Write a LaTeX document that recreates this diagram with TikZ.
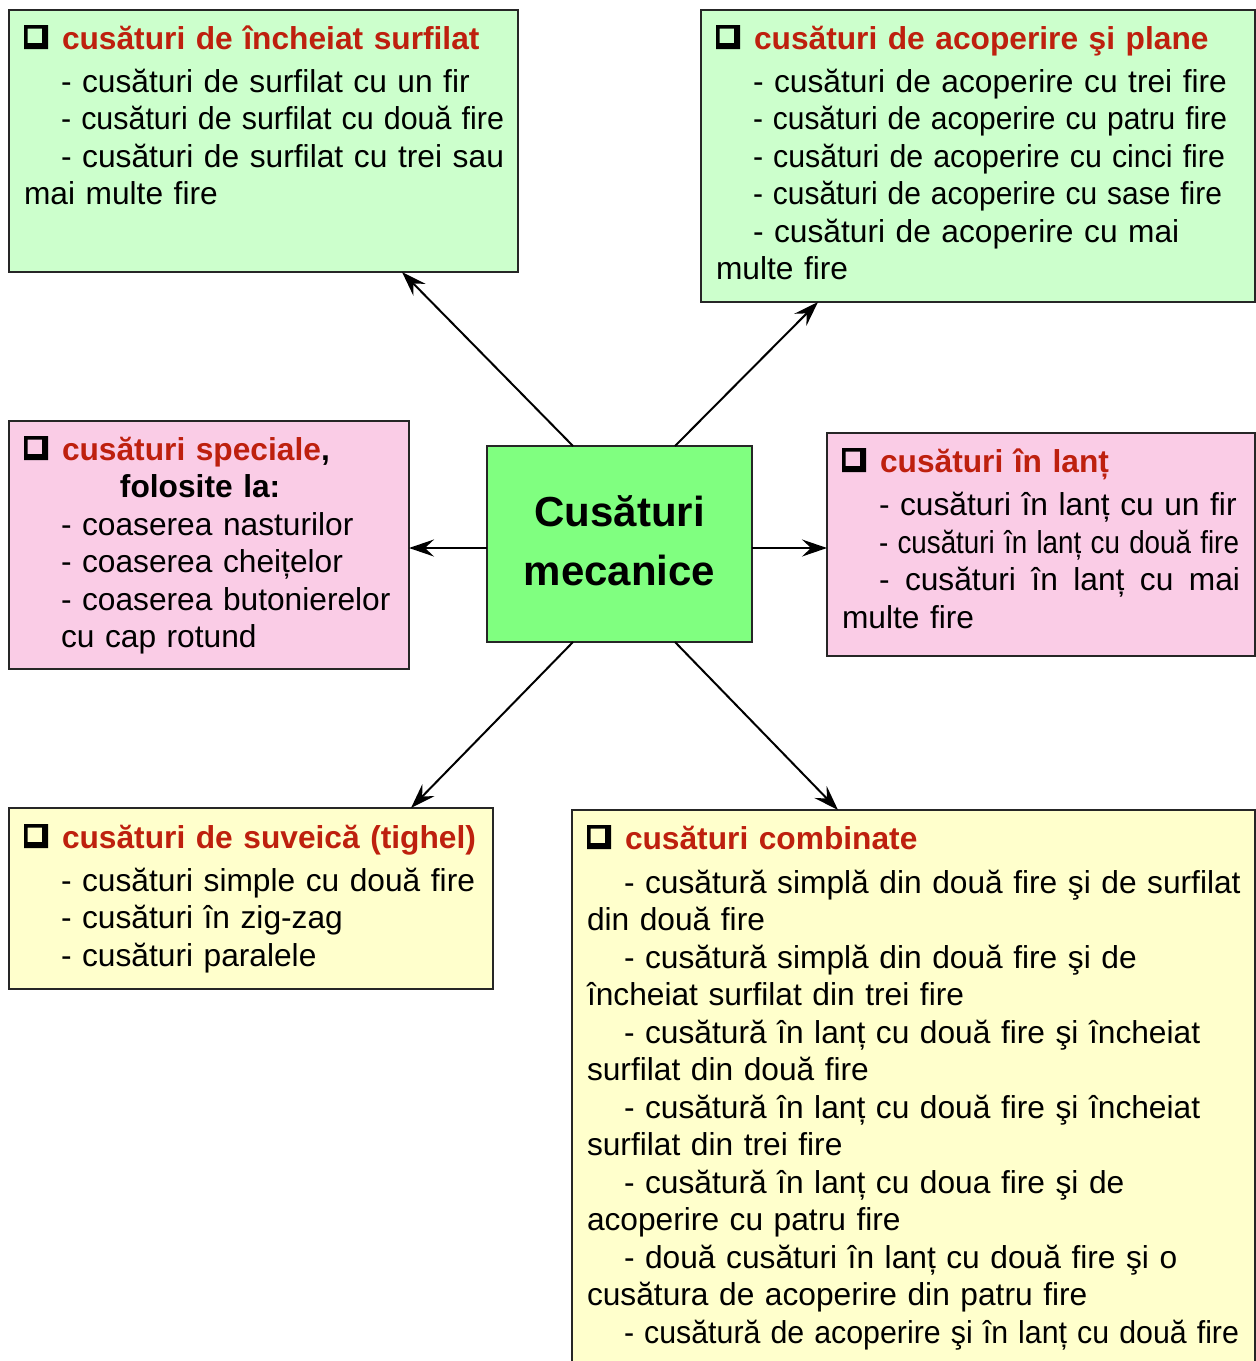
\documentclass[tikz,border=0pt]{standalone}
\usepackage{fontspec}
\usepackage{graphicx}
\setmainfont{Liberation Sans}
\usetikzlibrary{arrows.meta}
\definecolor{tgreen}{RGB}{204,255,204}
\definecolor{cgreen}{RGB}{128,255,128}
\definecolor{tpink}{RGB}{250,204,230}
\definecolor{tyellow}{RGB}{255,255,204}
\definecolor{tred}{RGB}{190,32,14}
\newcommand\ind{\hspace*{37pt}}
\newcommand\fitw[2]{\resizebox{#1}{\height}{#2}}
\newcommand\js{\hspace{0.28em plus 1fill}}
\newcommand\chk{\makebox[38pt][l]{\tikz[baseline=0pt,x=1pt,y=1pt]{\fill[black,even odd rule] (2,0) rectangle (26,24) (5.5,6) rectangle (20,20.5);}}}
\newcommand\ttl[1]{\chk\textcolor{tred}{\bfseries #1}}
\begin{document}
\begin{tikzpicture}[x=1pt,y=-1pt,
  box/.style={draw=black!85, line width=1.2pt, anchor=north west, inner sep=0pt, outer sep=0pt},
  txt/.style={anchor=base west, inner sep=0pt, outer sep=0pt, align=left, font=\fontsize{31.7}{37.5}\selectfont},
  arr/.style={line width=2pt, -{Stealth[length=25pt,width=17pt,inset=9pt]}}]
\useasboundingbox (0,0) rectangle (1256,1361);
% boxes
\node[box, fill=tgreen, minimum width=509pt, minimum height=262pt] (tl) at (9,10) {};
\node[box, fill=tgreen, minimum width=554pt, minimum height=292pt] (tr) at (701,10) {};
\node[box, fill=tpink, minimum width=400pt, minimum height=248pt] (lp) at (9,421) {};
\node[box, fill=tpink, minimum width=428pt, minimum height=223pt] (rp) at (827,433) {};
\node[box, fill=tyellow, minimum width=484pt, minimum height=181pt] (bl) at (9,808) {};
\node[box, fill=tyellow, minimum width=683pt, minimum height=570pt] (br) at (572,810) {};
\node[box, fill=cgreen, minimum width=265pt, minimum height=196pt, align=center, text depth=6pt,
  font=\bfseries\fontsize{42}{59}\selectfont] (c) at (487,446) {Cusături\\mecanice};
% texts
\node[txt, text width=490pt] (t1) at (24,49) {\ttl{cusături de încheiat surfilat}\\[5.5pt]
\ind - cusături de surfilat cu un fir\\
\ind\fitw{443pt}{- cusături de surfilat cu două fire}\\
\ind\fitw{443pt}{- cusături de surfilat cu trei sau}\\
mai multe fire};
\node[txt, text width=535pt] (t2) at (716,49) {\ttl{cusături de acoperire şi plane}\\[5.5pt]
\ind - cusături de acoperire cu trei fire\\
\ind\fitw{474pt}{- cusături de acoperire cu patru fire}\\
\ind\fitw{472pt}{- cusături de acoperire cu cinci fire}\\
\ind\fitw{469pt}{- cusături de acoperire cu sase fire}\\
\ind - cusături de acoperire cu mai\\
multe fire};
\node[txt, text width=380pt] (t3) at (24,460) {\ttl{cusături speciale}\textbf{,}\\
\hspace*{96pt}\textbf{folosite la:}\\
\ind - coaserea nasturilor\\
\ind - coaserea cheițelor\\
\ind - coaserea butonierelor\\
\ind cu cap rotund};
\node[txt, text width=410pt] (t4) at (842,472) {\ttl{cusături în lanț}\\[6pt]
\ind - cusături în lanț cu un fir\\
\ind\fitw{360pt}{- cusături în lanț cu două fire}\\
\makebox[398pt][l]{\ind -\js cusături\js în\js lanț\js cu\js mai}\\
multe fire};
\node[txt, text width=465pt] (t5) at (24,848) {\ttl{cusături de suveică (tighel)}\\[5.5pt]
\ind - cusături simple cu două fire\\
\ind - cusături în zig-zag\\
\ind - cusături paralele};
\node[txt, text width=665pt] (t6) at (587,849) {\ttl{cusături combinate}\\[6.5pt]
\ind - cusătură simplă din două fire şi de surfilat\\
din două fire\\
\ind - cusătură simplă din două fire şi de\\
încheiat surfilat din trei fire\\
\ind - cusătură în lanț cu două fire şi încheiat\\
surfilat din două fire\\
\ind - cusătură în lanț cu două fire şi încheiat\\
surfilat din trei fire\\
\ind - cusătură în lanț cu doua fire şi de\\
acoperire cu patru fire\\
\ind - două cusături în lanț cu două fire şi o\\
cusătura de acoperire din patru fire\\
\ind\fitw{615pt}{- cusătură de acoperire şi în lanț cu două fire}};
% arrows
\draw[arr] ([xshift=86pt]c.north west) -- ([xshift=393pt]tl.south west);
\draw[arr] ([xshift=188pt]c.north west) -- ([xshift=117pt]tr.south west);
\draw[arr] ([yshift=-4pt]c.west) -- ([yshift=-4pt]c.west -| lp.east);
\draw[arr] ([yshift=-4pt]c.east) -- ([yshift=-4pt]c.east -| rp.west);
\draw[arr] ([xshift=86pt]c.south west) -- ([xshift=402pt]bl.north west);
\draw[arr] ([xshift=188pt]c.south west) -- ([xshift=266pt]br.north west);
\end{tikzpicture}
\end{document}
